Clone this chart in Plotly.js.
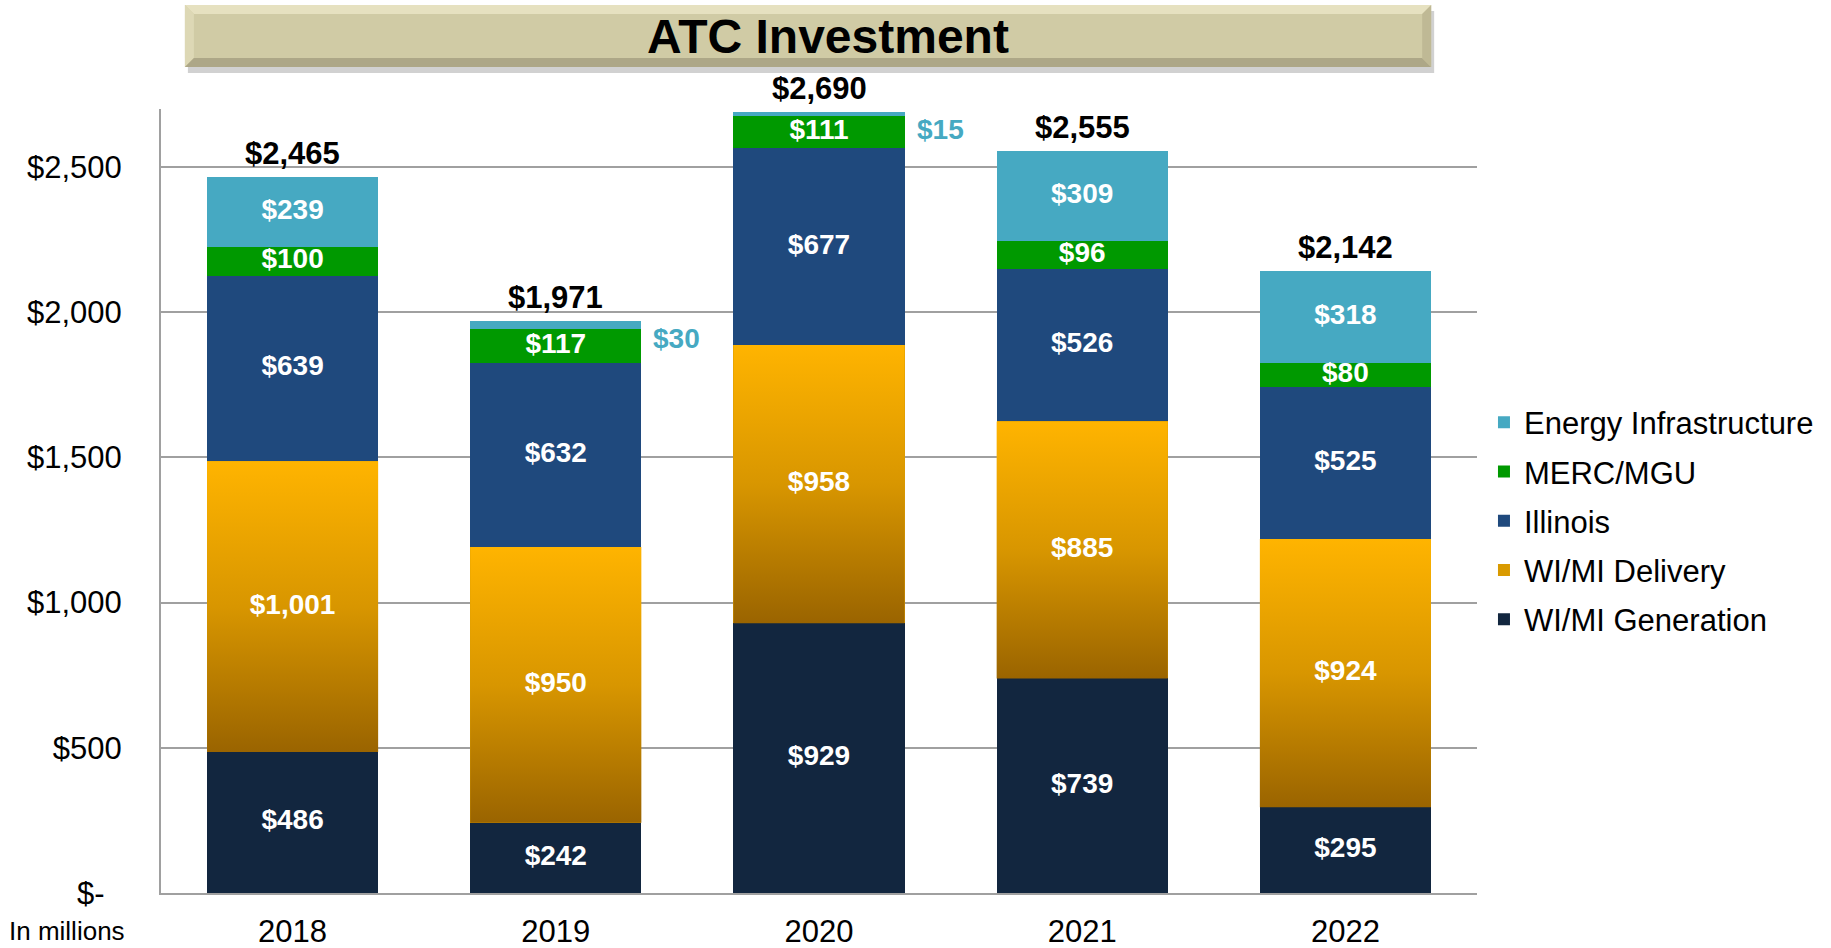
<!DOCTYPE html>
<html>
<head>
<meta charset="utf-8">
<script src="https://cdn.plot.ly/plotly-3.0.1.min.js"></script>
<style>html,body{margin:0;padding:0;background:#fff;}#chart{width:1831px;height:948px;}</style>
</head>
<body>
<div id="chart"></div>
<script>
// ---- data ----
const years = ['2018', '2019', '2020', '2021', '2022'];
const generation = [486, 242, 929, 739, 295];
const delivery = [1001, 950, 958, 885, 924];
const illinois = [639, 632, 677, 526, 525];
const merc = [100, 117, 111, 96, 80];
const energy = [239, 30, 15, 309, 318];
const totals = [2465, 1971, 2690, 2555, 2142];
const yTickVals = [0, 500, 1000, 1500, 2000, 2500];
const yTickText = ['$-\u00a0\u00a0', '$500', '$1,000', '$1,500', '$2,000', '$2,500'];

// ---- style ----
const FONT = 'Arial, "Liberation Sans", sans-serif';
const W = 1831, H = 948;
const M = {l: 161, r: 349, t: 109, b: 55};
const BAR_W = 0.65;
const HW = BAR_W / 2;
const series = [
  {name: 'WI/MI Generation', values: generation, color: '#12263F'},
  {name: 'WI/MI Delivery', values: delivery, color: '#D99A00'},
  {name: 'Illinois', values: illinois, color: '#1F497D'},
  {name: 'MERC/MGU', values: merc, color: '#009900'},
  {name: 'Energy Infrastructure', values: energy, color: '#46A9C2'}
];
const xIdx = years.map((_, i) => i);
const fmt = v => '$' + v.toLocaleString('en-US');

// pixel -> paper helpers for decoration
const pw = W - M.l - M.r, ph = H - M.t - M.b;
const px = x => (x - M.l) / pw;
const py = y => (H - M.b - y) / ph;

const traces = [];
// stacked bars (legend shows top series first)
series.forEach((s, k) => {
  traces.push({
    type: 'bar', name: s.name, x: xIdx, y: s.values, width: BAR_W,
    marker: {color: s.color, line: {width: 0}},
    legendgroup: s.name, legendrank: series.length - k, hoverinfo: 'skip'
  });
});
// gradient overlay for WI/MI Delivery
xIdx.forEach(i => {
  const b = generation[i], t = generation[i] + delivery[i];
  traces.push({
    type: 'scatter', mode: 'none', showlegend: false, hoverinfo: 'skip',
    x: [i - HW, i + HW, i + HW, i - HW, i - HW],
    y: [b, b, t, t, b],
    fill: 'toself',
    fillgradient: {type: 'vertical', colorscale: [[0, '#9A6400'], [0.5, '#D89600'], [1, '#FFB400']]}
  });
});
// inside labels
let base = xIdx.map(() => 0);
series.forEach(s => {
  const xs = [], ys = [], ts = [];
  s.values.forEach((v, i) => {
    if (v >= 50) { xs.push(i); ys.push(base[i] + v / 2); ts.push(fmt(v)); }
    base[i] += v;
  });
  traces.push({
    type: 'scatter', mode: 'text', x: xs, y: ys, text: ts, showlegend: false,
    hoverinfo: 'skip', cliponaxis: false,
    textfont: {family: FONT, size: 28, color: '#FFFFFF', weight: 'bold'}
  });
});

const annotations = [];
totals.forEach((v, i) => {
  annotations.push({
    x: i, y: v, xref: 'x', yref: 'y', text: fmt(v), showarrow: false,
    yanchor: 'bottom', yshift: 4,
    font: {family: FONT, size: 31, color: '#000000', weight: 'bold'}
  });
});
energy.forEach((v, i) => {
  if (v < 50) {
    annotations.push({
      x: i + HW, y: totals[i], xref: 'x', yref: 'y', text: fmt(v), showarrow: false,
      xanchor: 'left', yanchor: 'top', xshift: 10, yshift: 0,
      font: {family: FONT, size: 28, color: '#46A9C2', weight: 'bold'}
    });
  }
});
annotations.push({
  x: px(67), y: py(931), xref: 'paper', yref: 'paper', text: 'In millions',
  showarrow: false, xanchor: 'center', yanchor: 'middle',
  font: {family: FONT, size: 26, color: '#000000'}
});

// title box (bevelled)
const L = 185, R = 1436, T = 5, B = 67, bv = 9;
const P = (x, y) => px(x) + ',' + py(y);
const shapes = [
  {type: 'rect', xref: 'paper', yref: 'paper', x0: px(L + 3), x1: px(R + 3), y0: py(T + 6), y1: py(B + 6),
   fillcolor: 'rgba(0,0,0,0.18)', line: {width: 0}, layer: 'below'},
  {type: 'rect', xref: 'paper', yref: 'paper', x0: px(L), x1: px(R), y0: py(T), y1: py(B),
   fillcolor: '#D0CBA5', line: {width: 0}},
  {type: 'path', xref: 'paper', yref: 'paper', line: {width: 0}, fillcolor: '#E6E1C0',
   path: 'M' + P(L, T) + 'L' + P(R, T) + 'L' + P(R - bv, T + bv) + 'L' + P(L + bv, T + bv) + 'Z'},
  {type: 'path', xref: 'paper', yref: 'paper', line: {width: 0}, fillcolor: '#DDD8B5',
   path: 'M' + P(L, T) + 'L' + P(L + bv, T + bv) + 'L' + P(L + bv, B - bv) + 'L' + P(L, B) + 'Z'},
  {type: 'path', xref: 'paper', yref: 'paper', line: {width: 0}, fillcolor: '#ADA787',
   path: 'M' + P(L, B) + 'L' + P(L + bv, B - bv) + 'L' + P(R - bv, B - bv) + 'L' + P(R, B) + 'Z'},
  {type: 'path', xref: 'paper', yref: 'paper', line: {width: 0}, fillcolor: '#BFB995',
   path: 'M' + P(R, T) + 'L' + P(R - bv, T + bv) + 'L' + P(R - bv, B - bv) + 'L' + P(R, B) + 'Z'}
];

const layout = {
  width: W, height: H,
  margin: M,
  paper_bgcolor: '#FFFFFF', plot_bgcolor: '#FFFFFF',
  font: {family: FONT, color: '#000000'},
  barmode: 'stack',
  title: {
    text: 'ATC Investment', x: 828 / W, y: 1 - 36 / H, xref: 'container', yref: 'container',
    xanchor: 'center', yanchor: 'middle',
    font: {family: FONT, size: 48, color: '#000000', weight: 'bold'}
  },
  xaxis: {
    type: 'linear', range: [-0.5, 4.5], tickvals: xIdx, ticktext: years,
    showgrid: false, zeroline: false, showline: true, linecolor: '#A0A0A0', linewidth: 2,
    ticks: 'outside', ticklen: 10, tickcolor: 'rgba(0,0,0,0)',
    tickfont: {family: FONT, size: 31, color: '#000000'}, fixedrange: true
  },
  yaxis: {
    range: [0, 2700], tickvals: yTickVals, ticktext: yTickText,
    showgrid: true, gridcolor: '#A0A0A0', gridwidth: 2, zeroline: false,
    showline: true, linecolor: '#A0A0A0', linewidth: 2,
    ticks: 'outside', ticklen: 31, tickcolor: 'rgba(0,0,0,0)',
    tickfont: {family: FONT, size: 31, color: '#000000'}, fixedrange: true
  },
  legend: {
    x: px(1489), xanchor: 'left', y: py(521), yanchor: 'middle',
    traceorder: 'grouped', tracegroupgap: 6,
    font: {family: FONT, size: 31, color: '#000000'}, bgcolor: 'rgba(0,0,0,0)'
  },
  shapes: shapes,
  annotations: annotations,
  showlegend: true
};

Plotly.newPlot('chart', traces, layout, {displayModeBar: false, staticPlot: true});
</script>
</body>
</html>
